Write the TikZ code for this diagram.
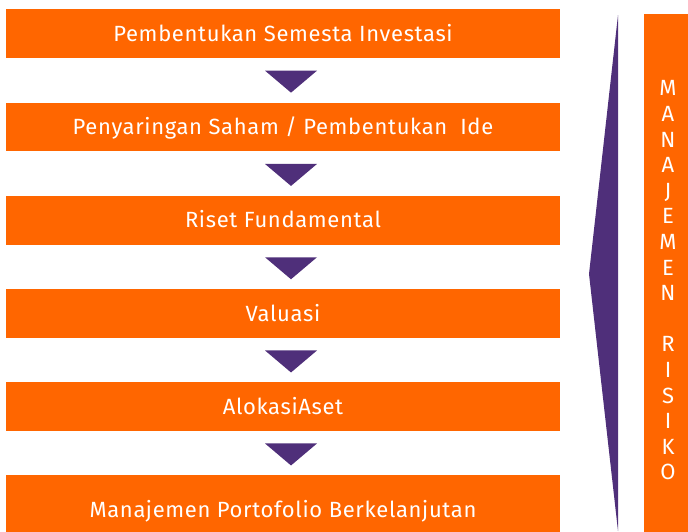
\documentclass[tikz,border=0pt]{standalone}
\usepackage{fontspec}
\setmainfont{Fira Sans}[LetterSpace=3]
\usetikzlibrary{calc}
\definecolor{oranye}{HTML}{FF6600}
\definecolor{ungu}{HTML}{4F2F7A}
\begin{document}
\begin{tikzpicture}[x=1pt,y=-1pt,
  langkah/.style={fill=oranye,text=white,inner sep=0pt,minimum width=554pt,minimum height=48.5pt,
    text height=15pt,text depth=0pt,font=\fontsize{22}{22}\selectfont},
  panah/.style={fill=ungu}]
\path[use as bounding box,clip](0,0) rectangle (688,531);
\node[langkah](s1) at (283,33.7){Pembentukan Semesta Investasi};
\node[langkah](s2) at (283,127){Penyaringan Saham / Pembentukan\ \ Ide};
\node[langkah](s3) at (283,220.3){Riset Fundamental};
\node[langkah](s4) at (283,313.5){Valuasi};
\node[langkah](s5) at (283,406.5){AlokasiAset};
\node[langkah,minimum height=70pt](s6) at (283,510){Manajemen Portofolio Berkelanjutan};
\foreach \s in {s1,s2,s3,s4,s5}
  \fill[panah]($(\s.south)+(-18,12.5)$)--($(\s.south)+(34,12.5)$)--($(\s.south)+(8,34.5)$)--cycle;
\fill[panah](618,15)--(589,274)--(618,531)--cycle;
\node[fill=oranye,inner sep=0pt,minimum width=44pt,minimum height=518pt](bar) at (666,272.5){};
\node[text=white,align=center,inner sep=0pt,font=\fontsize{22}{25.6}\selectfont](huruf) at ($(bar.center)+(2,8)$)
  {M\\A\\N\\A\\J\\E\\M\\E\\N\\[25.6pt]R\\I\\S\\I\\K\\O};
\end{tikzpicture}
\end{document}
